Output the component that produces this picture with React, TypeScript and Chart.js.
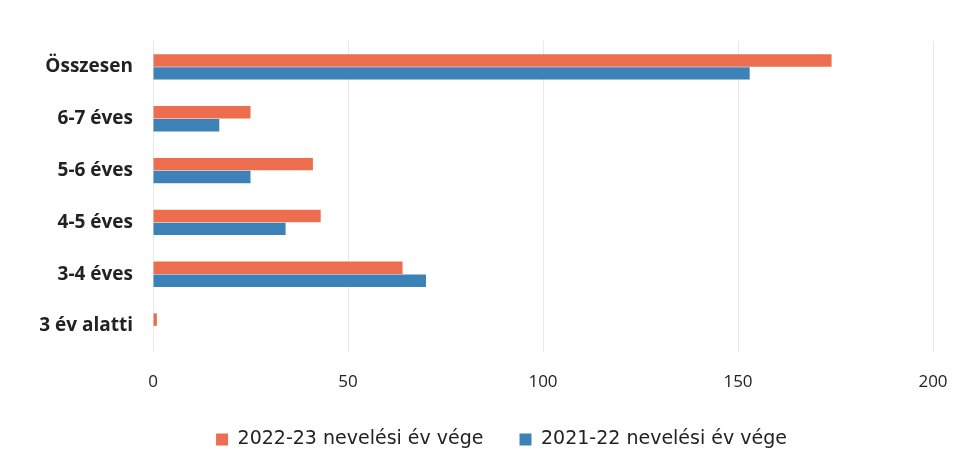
import React, { useEffect, useRef } from "react";
import { Chart, registerables } from "chart.js";

Chart.register(...registerables);

const categories = ["Összesen", "6-7 éves", "5-6 éves", "4-5 éves", "3-4 éves", "3 év alatti"];
const series2223 = [174, 25, 41, 43, 64, 1];
const series2122 = [153, 17, 25, 34, 70, 0];
const seriesNames = ["2022-23 nevelési év vége", "2021-22 nevelési év vége"];
const xTicks = [0, 50, 100, 150, 200];

const ORANGE = "#EC6E4F";
const BLUE = "#3D82B6";

const legendShift = {
  id: "legendShift",
  afterLayout(chart: any) {
    const l = chart.legend;
    if (l) {
      l.left += 31;
      l.right += 31;
    }
  },
};

export default function App() {
  const ref = useRef<HTMLCanvasElement | null>(null);

  useEffect(() => {
    if (!ref.current) return;
    const chart = new Chart(ref.current, {
      type: "bar",
      data: {
        labels: categories,
        datasets: [
          {
            label: seriesNames[0],
            data: series2223,
            backgroundColor: ORANGE,
            borderWidth: 0,
            barPercentage: 0.96,
            categoryPercentage: 0.5,
          },
          {
            label: seriesNames[1],
            data: series2122,
            backgroundColor: BLUE,
            borderWidth: 0,
            barPercentage: 0.96,
            categoryPercentage: 0.5,
          },
        ],
      },
      plugins: [legendShift],
      options: {
        indexAxis: "y",
        responsive: false,
        animation: false,
        layout: { padding: { top: 41, left: 8, right: 36, bottom: 7 } },
        plugins: {
          tooltip: { enabled: false },
          title: { display: false },
          legend: {
            position: "bottom",
            labels: {
              boxWidth: 12,
              boxHeight: 12,
              padding: 36,
              color: "#222",
              font: { family: "DejaVu Sans", size: 19 },
            },
          },
        },
        scales: {
          x: {
            min: 0,
            max: 200,
            afterBuildTicks: (s: any) => {
              s.ticks = xTicks.map((v) => ({ value: v }));
            },
            afterFit: (s: any) => {
              s.height = 42;
            },
            grid: { color: "#e8e8e8", drawTicks: false },
            border: { display: false },
            ticks: {
              padding: 20,
              color: "#222",
              font: { family: "Open Sans", size: 17 },
            },
          },
          y: {
            afterFit: (s: any) => {
              s.width = 145;
            },
            grid: { display: false, drawTicks: false },
            border: { display: false },
            ticks: {
              padding: 20,
              color: "#222",
              font: { family: "Open Sans", size: 19, weight: "bold" },
            },
          },
        },
      },
    });
    return () => chart.destroy();
  }, []);

  return (
    <div style={{ position: "fixed", left: 0, top: 0, width: 969, height: 466, background: "#fff" }}>
      <canvas ref={ref} width={969} height={466} style={{ display: "block" }} />
    </div>
  );
}
